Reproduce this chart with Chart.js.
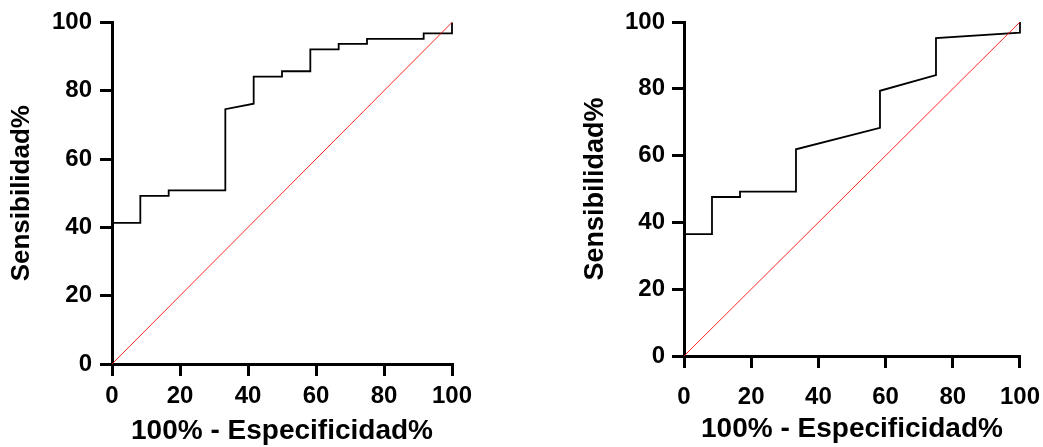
<!DOCTYPE html>
<html>
<head>
<meta charset="utf-8">
<script src="https://cdn.jsdelivr.net/npm/chart.js@4.4.0/dist/chart.umd.min.js"></script>
<style>
  html, body { margin: 0; padding: 0; background: #fff; }
  body { width: 1043px; height: 447px; position: relative; overflow: hidden; }
  canvas { position: absolute; top: 0; }
  #rocLeft { left: 0; }
  #rocRight { left: 560px; }
</style>
</head>
<body>
<canvas id="rocLeft" width="520" height="447"></canvas>
<canvas id="rocRight" width="495" height="447"></canvas>
<script>
// ROC curves: x = 100% - specificity, y = sensitivity
const leftFpr = [0, 0, 8.33, 8.33, 16.67, 16.67, 33.33, 33.33, 41.67, 41.67, 50, 50, 58.33, 58.33, 66.67, 66.67, 75, 75, 91.67, 91.67, 100, 100];
const leftTpr = [0, 41.3, 41.3, 49.2, 49.2, 50.8, 50.8, 74.6, 76.2, 84.1, 84.1, 85.7, 85.7, 92.1, 92.1, 93.7, 93.7, 95.2, 95.2, 96.8, 96.8, 100];

const rightFpr = [0, 0, 8.33, 8.33, 16.67, 16.67, 33.33, 33.33, 58.33, 58.33, 75, 75, 100, 100];
const rightTpr = [0, 36.5, 36.5, 47.6, 47.6, 49.2, 49.2, 61.9, 68.3, 79.4, 84.1, 95.2, 96.8, 100];

// reference (chance) line
const chanceX = [0, 100];
const chanceY = [0, 100];

const tickValues = [0, 20, 40, 60, 80, 100];
const xTitle = '100% - Especificidad%';
const yTitle = 'Sensibilidad%';

const fontFamily = '"Liberation Sans", Arial, Helvetica, sans-serif';

function toPoints(xs, ys) {
    return xs.map((x, i) => ({ x: x, y: ys[i] }));
}

function makeConfig(fpr, tpr, box) {
    const axisCommon = {
        type: 'linear',
        min: 0,
        max: 100,
        afterBuildTicks: (scale) => {
            scale.ticks = tickValues.map((v) => ({ value: v }));
        },
        grid: {
            drawOnChartArea: false,
            color: '#000',
            tickColor: '#000',
            lineWidth: 3,
            tickLength: 12,
        },
        border: { color: '#000', width: 3 },
    };

    return {
        type: 'line',
        data: {
            datasets: [
                {
                    data: toPoints(chanceX, chanceY),
                    borderColor: 'rgba(255, 0, 0, 0.85)',
                    borderWidth: 1,
                    pointRadius: 0,
                    fill: false,
                    clip: false,
                },
                {
                    data: toPoints(fpr, tpr),
                    borderColor: '#000',
                    borderWidth: 1.8,
                    pointRadius: 0,
                    tension: 0,
                    fill: false,
                    clip: false,
                },
            ],
        },
        options: {
            responsive: false,
            animation: false,
            layout: { padding: box.padding },
            scales: {
                x: Object.assign({}, axisCommon, {
                    ticks: {
                        color: '#000',
                        font: { family: fontFamily, weight: 'bold', size: 24 },
                        padding: box.xTickPad,
                        maxRotation: 0,
                        autoSkip: false,
                    },
                    title: {
                        display: true,
                        text: xTitle,
                        color: '#000',
                        font: { family: fontFamily, weight: 'bold', size: 28, lineHeight: 1 },
                        padding: { top: 0, bottom: box.xTitlePad },
                    },
                    afterFit: (scale) => {
                        scale.height = box.xAxisHeight;
                    },
                }),
                y: Object.assign({}, axisCommon, {
                    ticks: {
                        color: '#000',
                        font: { family: fontFamily, weight: 'bold', size: 24 },
                        padding: box.yTickPad,
                        autoSkip: false,
                    },
                    title: {
                        display: true,
                        text: yTitle,
                        color: '#000',
                        font: { family: fontFamily, weight: 'bold', size: box.yTitleSize, lineHeight: 1 },
                        padding: { top: box.yTitlePad, bottom: 0 },
                    },
                    afterFit: (scale) => {
                        scale.width = box.yAxisWidth;
                    },
                }),
            },
            plugins: {
                legend: { display: false },
                tooltip: { enabled: false },
            },
        },
    };
}

const leftChart = new Chart(document.getElementById('rocLeft'), makeConfig(leftFpr, leftTpr, {
    padding: { top: 22, right: 68, left: 0, bottom: 0 },
    yAxisWidth: 112,
    xAxisHeight: 83,
    xTickPad: 6,
    yTickPad: 8,
    xTitlePad: 2,
    yTitlePad: 9,
    yTitleSize: 26,
}));

// the right canvas runs past the page edge; the last x label's overflow sets its right margin
const rightChart = new Chart(document.getElementById('rocRight'), makeConfig(rightFpr, rightTpr, {
    padding: { top: 22, right: 35, left: 0, bottom: 0 },
    yAxisWidth: 124,
    xAxisHeight: 91,
    xTickPad: 15,
    yTickPad: 7,
    xTitlePad: 4,
    yTitlePad: 22,
    yTitleSize: 27,
}));
</script>
</body>
</html>
